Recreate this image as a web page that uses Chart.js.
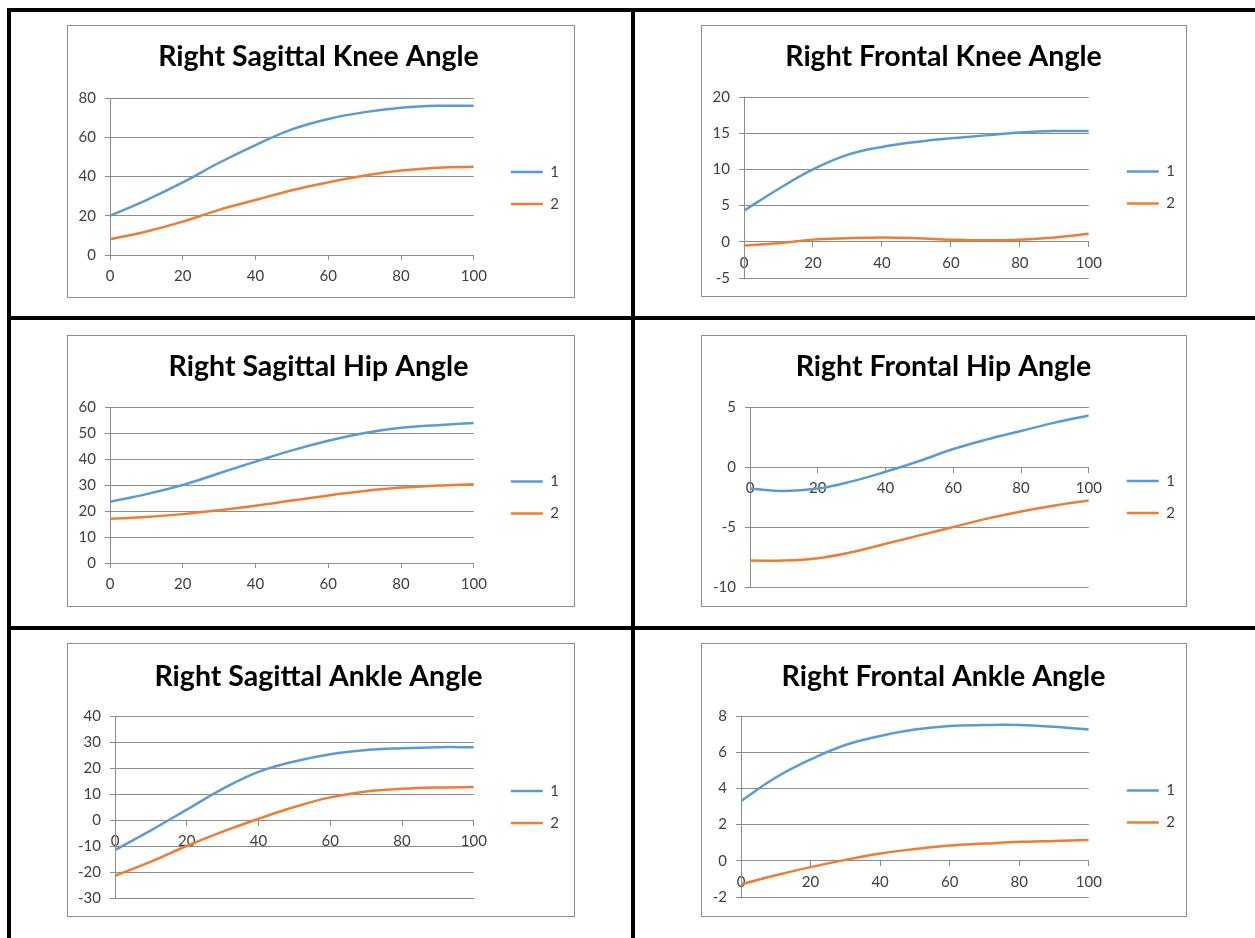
<!DOCTYPE html>
<html lang="en">
<head>
<meta charset="UTF-8">
<title>Right Leg Joint Angles</title>
<script src="https://cdn.jsdelivr.net/npm/chart.js"></script>
<style>
  body { margin: 0; background: #fff; }
  #page { position: relative; width: 1255px; height: 938px; overflow: hidden; background: #fff; }
  .rule { position: absolute; background: #000; }
  .box { position: absolute; border: 1px solid #8c8c8c; box-sizing: border-box; background: #fff; }
  .box canvas { display: block; }
</style>
</head>
<body>
<div id="page">
  <div class="rule" style="left:7px;top:8px;width:1248px;height:4px"></div>
  <div class="rule" style="left:7px;top:316px;width:1248px;height:4px"></div>
  <div class="rule" style="left:7px;top:626px;width:1248px;height:4px"></div>
  <div class="rule" style="left:7px;top:8px;width:4px;height:930px"></div>
  <div class="rule" style="left:631px;top:8px;width:4px;height:930px"></div>

  <div class="box" style="left:67px;top:25px;width:508px;height:273px"><canvas id="c1" width="506" height="271"></canvas></div>
  <div class="box" style="left:701px;top:25px;width:486px;height:272px"><canvas id="c2" width="484" height="270"></canvas></div>
  <div class="box" style="left:67px;top:335px;width:508px;height:272px"><canvas id="c3" width="506" height="270"></canvas></div>
  <div class="box" style="left:701px;top:335px;width:486px;height:272px"><canvas id="c4" width="484" height="270"></canvas></div>
  <div class="box" style="left:67px;top:643px;width:508px;height:274px"><canvas id="c5" width="506" height="272"></canvas></div>
  <div class="box" style="left:701px;top:643px;width:486px;height:274px"><canvas id="c6" width="484" height="272"></canvas></div>
</div>

<script>
// % of cycle (x values)
var cycle = [0, 10, 20, 30, 40, 50, 60, 70, 80, 90, 100];
var xTicks = [0, 100, 20];   // min, max, step

// series, trial 1 and trial 2
var sagKnee1 = [20, 28, 37, 47, 56, 64, 69.3, 72.8, 75, 76, 76];
var sagKnee2 = [8, 12, 17, 23, 28, 33, 37, 40.5, 43, 44.5, 45];
var froKnee1 = [4.3, 7.3, 10, 12, 13.1, 13.8, 14.3, 14.7, 15.1, 15.3, 15.3];
var froKnee2 = [-0.5, -0.2, 0.3, 0.5, 0.6, 0.5, 0.3, 0.2, 0.3, 0.6, 1.1];
var sagHip1 = [23.5, 26.5, 30, 34.5, 39, 43.3, 47, 50, 52, 53, 53.8];
var sagHip2 = [17, 17.7, 18.8, 20.3, 22, 24, 26, 27.7, 29, 29.8, 30.3];
var froHip1 = [-1.8, -2.0, -1.8, -1.2, -0.4, 0.5, 1.5, 2.3, 3.0, 3.7, 4.3];
var froHip2 = [-7.8, -7.8, -7.6, -7.1, -6.4, -5.7, -5.0, -4.3, -3.7, -3.2, -2.8];
var sagAnk1 = [-11.5, -4, 4, 12, 18.5, 22.5, 25.3, 26.9, 27.6, 28, 28];
var sagAnk2 = [-21.5, -16, -10, -4.5, 0.5, 5, 8.7, 11, 12, 12.5, 12.7];
var froAnk1 = [3.3, 4.6, 5.6, 6.4, 6.9, 7.25, 7.45, 7.5, 7.5, 7.4, 7.25];
var froAnk2 = [-1.3, -0.8, -0.35, 0.05, 0.4, 0.65, 0.85, 0.95, 1.05, 1.1, 1.15];

// y axis: min, max, step
var sagKneeY = [0, 80, 20];
var froKneeY = [-5, 20, 5];
var sagHipY = [0, 60, 10];
var froHipY = [-10, 5, 5];
var sagAnkY = [-30, 40, 10];
var froAnkY = [-2, 8, 2];

var seriesNames = ['1', '2'];

var BLUE = '#5b9bd5';
var ORANGE = '#ed7d31';
var GRID = '#8c8c8c';
var TEXT = '#404040';

Chart.defaults.font.family = 'Lato, "Open Sans", sans-serif';
Chart.defaults.font.size = 15;
Chart.defaults.color = TEXT;

// plot geometry per panel (canvas pixels)
var panels = [
    { id: 'c1', title: 'Right Sagittal Knee Angle', a: sagKnee1, b: sagKnee2, y: sagKneeY,
      left: 42, top: 72, bottom: 229, titleY: 31, spacer: 20, padRight: 5, atZero: false, lift: 23 },
    { id: 'c2', title: 'Right Frontal Knee Angle', a: froKnee1, b: froKnee2, y: froKneeY,
      left: 42, top: 71, bottom: 252, titleY: 31, spacer: 21, padRight: 1, atZero: true, lift: 0 },
    { id: 'c3', title: 'Right Sagittal Hip Angle', a: sagHip1, b: sagHip2, y: sagHipY,
      left: 42, top: 71, bottom: 227, titleY: 31, spacer: 20, padRight: 5, atZero: false, lift: 25 },
    { id: 'c4', title: 'Right Frontal Hip Angle', a: froHip1, b: froHip2, y: froHipY,
      left: 48, top: 71, bottom: 251, titleY: 31, spacer: 21, padRight: 1, atZero: true, lift: 0 },
    { id: 'c5', title: 'Right Sagittal Ankle Angle', a: sagAnk1, b: sagAnk2, y: sagAnkY,
      left: 47, top: 72, bottom: 255, titleY: 33, spacer: 20, padRight: 5, atZero: true, lift: 0 },
    { id: 'c6', title: 'Right Frontal Ankle Angle', a: froAnk1, b: froAnk2, y: froAnkY,
      left: 39, top: 72, bottom: 253, titleY: 33, spacer: 21, padRight: 1, atZero: true, lift: 0 }
];

function toPoints(values) {
    return values.map(function (v, i) { return { x: cycle[i], y: v }; });
}

function makeChart(p) {
    var canvas = document.getElementById(p.id);
    var H = canvas.height;
    var titleSize = 28.5;
    var half = titleSize * 1.2 / 2;

    var legendTitle = p.lift > 0
        ? { display: true, text: '', font: { size: 10 }, padding: { top: p.lift - 12, bottom: 0 } }
        : { display: false };

    var xScale = {
        type: 'linear',
        min: xTicks[0],
        max: xTicks[1],
        position: p.atZero ? { y: 0 } : 'bottom',
        ticks: { stepSize: xTicks[2], padding: 7, color: TEXT },
        grid: { drawOnChartArea: false, tickLength: 5, color: GRID },
        border: { color: GRID }
    };
    if (!p.atZero) {
        xScale.afterFit = function (scale) { scale.height = H - p.bottom; };
    }

    return new Chart(canvas.getContext('2d'), {
        type: 'line',
        data: {
            datasets: [{
                label: seriesNames[0],
                data: toPoints(p.a),
                borderColor: BLUE,
                backgroundColor: BLUE,
                borderWidth: 2.5,
                pointRadius: 0,
                tension: 0.4
            }, {
                label: seriesNames[1],
                data: toPoints(p.b),
                borderColor: ORANGE,
                backgroundColor: ORANGE,
                borderWidth: 2.5,
                pointRadius: 0,
                tension: 0.4
            }]
        },
        options: {
            responsive: false,
            animation: false,
            layout: {
                padding: { left: 0, right: p.padRight, top: 0, bottom: p.atZero ? H - p.bottom : 0 }
            },
            plugins: {
                title: {
                    display: true,
                    text: p.title,
                    color: '#000',
                    font: { size: titleSize, weight: 'bold' },
                    padding: { top: p.titleY - half, bottom: p.top - p.titleY - half }
                },
                legend: {
                    position: 'right',
                    fullSize: false,
                    title: legendTitle,
                    labels: {
                        usePointStyle: true,
                        pointStyle: 'line',
                        pointStyleWidth: 32,
                        padding: 17,
                        color: TEXT,
                        font: { size: 15 }
                    }
                },
                tooltip: { enabled: false }
            },
            scales: {
                x: xScale,
                y: {
                    type: 'linear',
                    min: p.y[0],
                    max: p.y[1],
                    ticks: { stepSize: p.y[2], padding: 9, color: TEXT },
                    grid: { color: GRID, tickLength: 5 },
                    border: { color: GRID },
                    afterFit: function (scale) { scale.width = p.left; }
                },
                gap: {
                    type: 'linear',
                    position: 'right',
                    ticks: { display: false },
                    grid: { display: false },
                    border: { display: false },
                    afterFit: function (scale) { scale.width = p.spacer; }
                }
            }
        }
    });
}

panels.forEach(makeChart);
</script>
</body>
</html>
